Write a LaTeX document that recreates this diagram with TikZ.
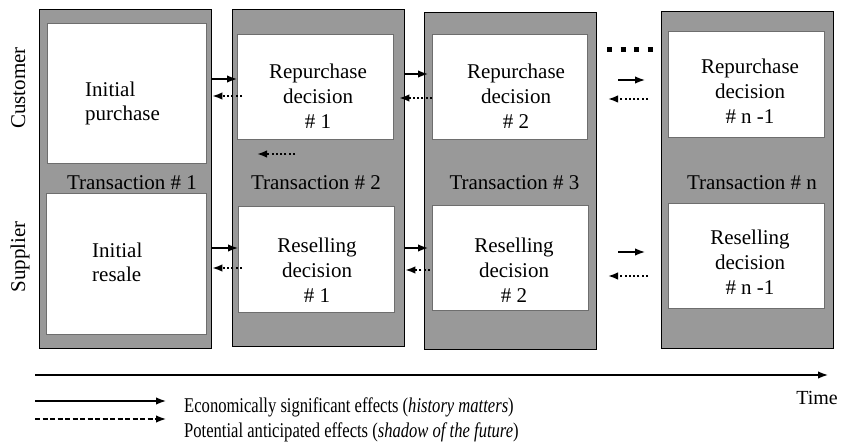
\documentclass[tikz,border=0pt]{standalone}
\usepackage{fontspec}
\setmainfont{Liberation Serif}
\usetikzlibrary{arrows.meta}
\definecolor{colgray}{RGB}{153,153,153}
\definecolor{boxedge}{RGB}{110,110,110}
\tikzset{
  colbox/.style={draw=black, line width=1.4pt, fill=colgray, inner sep=0pt, anchor=north west},
  whitebox/.style={draw=boxedge, line width=0.8pt, fill=white, inner sep=0pt, anchor=north west},
  boxtext/.style={align=center, inner sep=0pt, font=\fontsize{21}{25}\selectfont},
  lefttext/.style={align=left, inner sep=0pt, anchor=west, font=\fontsize{21}{24}\selectfont},
  translabel/.style={inner sep=0pt, anchor=base, font=\fontsize{21}{25}\selectfont},
  sidelabel/.style={inner sep=0pt, anchor=base, rotate=90, font=\fontsize{21}{25}\selectfont},
  effect/.style={line width=1.5pt, -{Latex[length=10pt,width=7.5pt]}},
  anticipated/.style={line width=1.6pt, dash pattern=on 2pt off 2.3pt, -{Latex[length=10pt,width=7.5pt]}},
  legendtext/.style={inner sep=0pt, anchor=base west, font=\fontsize{21}{25}\selectfont}
}
\begin{document}
\begin{tikzpicture}[x=1pt, y=-1pt]
\useasboundingbox (0,0) rectangle (842,443);

% transaction columns
\node[colbox, minimum width=172pt, minimum height=339pt] (col1) at (39,9) {};
\node[colbox, minimum width=172pt, minimum height=337pt] (col2) at (232,9) {};
\node[colbox, minimum width=172pt, minimum height=337pt] (col3) at (424,12) {};
\node[colbox, minimum width=172pt, minimum height=337pt] (coln) at (661,11) {};

% customer (a) and supplier (b) boxes
\node[whitebox, minimum width=159pt, minimum height=140pt] (w1a) at (47,23) {};
\node[whitebox, minimum width=160pt, minimum height=141pt] (w1b) at (46,193) {};
\node[whitebox, minimum width=156pt, minimum height=105pt] (w2a) at (237,34) {};
\node[whitebox, minimum width=156pt, minimum height=106pt] (w2b) at (238,206) {};
\node[whitebox, minimum width=155pt, minimum height=105pt] (w3a) at (432,34) {};
\node[whitebox, minimum width=156pt, minimum height=105pt] (w3b) at (432,205) {};
\node[whitebox, minimum width=156pt, minimum height=106pt] (wna) at (668,31) {};
\node[whitebox, minimum width=156pt, minimum height=105pt] (wnb) at (668,203) {};

% box texts
\node[lefttext] (t1a) at (85,103.7) {Initial\\purchase};
\node[lefttext] (t1b) at (92,262.4) {Initial\\resale};
\node[boxtext] (t2a) at (318,95.8) {Repurchase\\decision\\\# 1};
\node[boxtext] (t2b) at (317,269.8) {Reselling\\decision\\\# 1};
\node[boxtext] (t3a) at (516,95.8) {Repurchase\\decision\\\# 2};
\node[boxtext] (t3b) at (514,270.4) {Reselling\\decision\\\# 2};
\node[boxtext] (tna) at (750,90.8) {Repurchase\\decision\\\# n -1};
\node[boxtext] (tnb) at (750,261.9) {Reselling\\decision\\\# n -1};

% transaction labels
\node[translabel] (tr1) at (132,190) {Transaction \# 1};
\node[translabel] (tr2) at (316,190) {Transaction \# 2};
\node[translabel] (tr3) at (514.5,190) {Transaction \# 3};
\node[translabel] (trn) at (752,190) {Transaction \# n};

% side labels
\node[sidelabel] (cust) at (25,88) {Customer};
\node[sidelabel] (supp) at (25,257) {Supplier};

% effects between transactions 1 and 2
\draw[effect] (col1.east |- 0,79) -- (w2a.west |- 0,79);
\draw[anticipated] ([xshift=5pt]w2a.west |- 0,96) -- (col1.east |- 0,96);
\draw[effect] (col1.east |- 0,248) -- (w2b.west |- 0,248);
\draw[anticipated] ([xshift=4pt]w2b.west |- 0,268) -- (col1.east |- 0,268);
\coordinate (a2s) at (295,154);
\coordinate (a2e) at (257,154);
\draw[anticipated] (a2s) -- (a2e);

% effects between transactions 2 and 3
\draw[effect] (col2.east |- 0,74) -- ([xshift=-4pt]w3a.west |- 0,74);
\draw[anticipated] (w3a.west |- 0,98) -- ([xshift=-6pt]col2.east |- 0,98);
\draw[effect] (col2.east |- 0,248) -- ([xshift=-4pt]w3b.west |- 0,248);
\draw[anticipated] ([xshift=6pt]col3.west |- 0,270) -- (col2.east |- 0,270);

% effects toward transaction n
\coordinate (g1s) at (618,80);  \coordinate (g1e) at (645,80);
\coordinate (g2s) at (648,99);  \coordinate (g2e) at (608,99);
\coordinate (g3s) at (618,252); \coordinate (g3e) at (645,252);
\coordinate (g4s) at (648,276); \coordinate (g4e) at (608,276);
\draw[effect] (g1s) -- (g1e);
\draw[anticipated] (g2s) -- (g2e);
\draw[effect] (g3s) -- (g3e);
\draw[anticipated] (g4s) -- (g4e);

% omitted transactions
\coordinate (ds) at (607,50);
\coordinate (de) at (652.5,50);
\draw[line width=5pt, dash pattern=on 5pt off 8.5pt] (ds) -- (de);

% time axis
\coordinate (ts) at (35,375);
\coordinate (te) at (828,375);
\draw[effect] (ts) -- (te);
\node[inner sep=0pt, anchor=base, font=\fontsize{20}{24}\selectfont] (time) at (817,404) {Time};

% legend
\coordinate (l1s) at (35,401);  \coordinate (l1e) at (166,401);
\coordinate (l2s) at (35,419);  \coordinate (l2e) at (166,419);
\draw[effect] (l1s) -- (l1e);
\draw[line width=1.5pt, dash pattern=on 5pt off 2.5pt, -{Latex[length=10pt,width=7.5pt]}] (l2s) -- (l2e);
\node[legendtext] (leg1) at (184,412) {\scalebox{0.79}[1]{Economically significant effects (\textit{history matters})}};
\node[legendtext] (leg2) at (184,437) {\scalebox{0.79}[1]{Potential anticipated effects (\textit{shadow of the future})}};
\end{tikzpicture}
\end{document}
